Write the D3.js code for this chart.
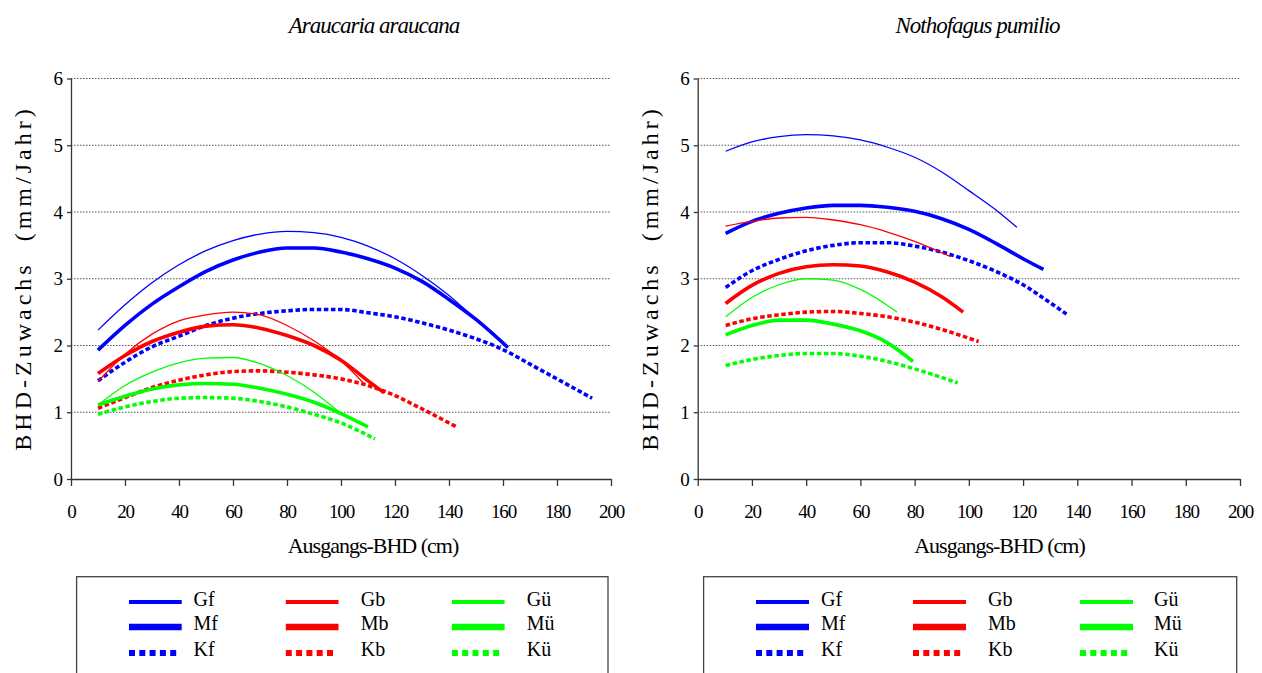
<!DOCTYPE html>
<html>
<head>
<meta charset="utf-8">
<script src="https://cdn.jsdelivr.net/npm/d3@7/dist/d3.min.js"></script>
<style>
  html, body { margin: 0; padding: 0; background: #fff; }
  svg { display: block; }
  .serif { font-family: "Liberation Serif"; }
</style>
</head>
<body>
<svg id="chart" width="1262" height="673" font-family="Liberation Serif"></svg>
<script>
// ---- Data: diameter increment (mm / year) over initial DBH (cm) ----
// Araucaria araucana
const araGf = [[10,2.23],[20,2.61],[30,2.94],[40,3.21],[50,3.42],[60,3.57],[70,3.67],[80,3.71],[90,3.69],[100,3.62],[110,3.49],[120,3.30],[130,3.05],[140,2.75],[150,2.39],[161.8,1.97]];
const araMf = [[10,1.93],[20,2.30],[30,2.62],[40,2.88],[50,3.11],[60,3.28],[70,3.40],[80,3.46],[90,3.46],[100,3.40],[110,3.30],[120,3.16],[130,2.96],[140,2.69],[150,2.39],[161.8,1.97]];
const araKf = [[10,1.47],[20,1.75],[30,1.98],[40,2.14],[50,2.30],[60,2.41],[70,2.48],[80,2.52],[90,2.54],[100,2.54],[110,2.49],[120,2.43],[130,2.34],[140,2.23],[150,2.10],[160,1.94],[170,1.72],[180,1.50],[193,1.21]];
const araGb = [[10,1.46],[20,1.87],[30,2.17],[40,2.37],[50,2.46],[60,2.50],[70,2.46],[80,2.30],[90,2.07],[100,1.77],[108,1.45]];
const araMb = [[10,1.58],[20,1.85],[30,2.06],[40,2.20],[50,2.29],[60,2.31],[70,2.26],[80,2.15],[90,2.00],[100,1.78],[110,1.47],[116,1.29]];
const araKb = [[10,1.06],[20,1.22],[30,1.37],[40,1.48],[50,1.56],[60,1.61],[70,1.62],[80,1.60],[90,1.56],[100,1.50],[110,1.40],[120,1.25],[130,1.05],[143.3,0.77]];
const araGu = [[10,1.11],[20,1.40],[30,1.60],[40,1.74],[50,1.81],[60,1.82],[70,1.73],[80,1.55],[90,1.30],[100,0.98]];
const araMu = [[10,1.11],[20,1.24],[30,1.35],[40,1.41],[50,1.43],[60,1.42],[70,1.36],[80,1.27],[90,1.15],[100,0.98],[110,0.78]];
const araKu = [[10,0.97],[20,1.08],[30,1.16],[40,1.21],[50,1.22],[60,1.21],[70,1.16],[80,1.08],[90,0.97],[100,0.84],[112.6,0.60]];

// Nothofagus pumilio
const notGf = [[10.3,4.91],[20,5.05],[30,5.13],[40,5.16],[50,5.14],[60,5.08],[70,4.97],[80,4.82],[90,4.60],[100,4.32],[110,4.03],[117.7,3.77]];
const notMf = [[10.3,3.68],[20,3.86],[30,3.98],[40,4.06],[50,4.10],[60,4.10],[70,4.07],[80,4.01],[90,3.90],[100,3.74],[110,3.53],[120,3.30],[127.5,3.14]];
const notKf = [[10.3,2.87],[20,3.12],[30,3.29],[40,3.42],[50,3.50],[60,3.54],[70,3.54],[80,3.49],[90,3.40],[100,3.27],[110,3.11],[120,2.91],[130,2.64],[136,2.47]];
const notGb = [[10.3,3.79],[20,3.86],[30,3.91],[40,3.92],[50,3.88],[60,3.81],[70,3.70],[80,3.56],[93.3,3.33]];
const notMb = [[10.3,2.63],[20,2.90],[30,3.08],[40,3.18],[50,3.21],[60,3.19],[70,3.10],[80,2.95],[90,2.73],[97.9,2.50]];
const notKb = [[10.3,2.30],[20,2.40],[30,2.46],[40,2.50],[50,2.51],[60,2.48],[70,2.43],[80,2.35],[90,2.24],[103.6,2.06]];
const notGu = [[10.3,2.43],[20,2.72],[30,2.91],[40,3.00],[50,2.98],[60,2.84],[70,2.60],[73.5,2.50]];
const notMu = [[10.3,2.16],[20,2.30],[30,2.38],[40,2.38],[50,2.32],[60,2.22],[70,2.04],[79.4,1.76]];
const notKu = [[10.3,1.70],[20,1.79],[30,1.85],[40,1.88],[50,1.88],[60,1.84],[70,1.76],[80,1.65],[95.9,1.44]];

// Series names, in drawing / legend order (columns: f, b, ü)
const seriesNames = ["Gf","Mf","Kf","Gb","Mb","Kb","Gü","Mü","Kü"];
const xTicks = [0,20,40,60,80,100,120,140,160,180,200];
const yTicks = [0,1,2,3,4,5,6];
const panelTitles = ["Araucaria araucana", "Nothofagus pumilio"];
const xAxisTitle = "Ausgangs-BHD (cm)";
const yAxisTitle = "BHD-Zuwachs  (mm/Jahr)";

const araData = [araGf, araMf, araKf, araGb, araMb, araKb, araGu, araMu, araKu];
const notData = [notGf, notMf, notKf, notGb, notMb, notKb, notGu, notMu, notKu];

// ---- Styles ----
const SERIF = "'Liberation Serif'";
const colorOf = name => ({ f: "#0000ff", b: "#ff0000", "ü": "#00ff00" })[name[1]];
const chartStroke = {
  G: { w: 1.3, dash: null },
  M: { w: 3.6, dash: null },
  K: { w: 3.6, dash: "4.5,2.6" }
};
const legendStroke = {
  G: { w: 4, dash: null },
  M: { w: 6.4, dash: null },
  K: { w: 6.2, dash: "6,4.3" }
};

const svg = d3.select("#chart");

const panels = [
  { data: araData, title: panelTitles[0], x0: 71, x1: 611, titleX: 374, axisTitleX: 373, yTitleX: 23,
    legend: { left: 76.6, right: 608, cols: [[129, 193.5], [285.8, 360.7], [451.9, 526.8]], len: 52.7 } },
  { data: notData, title: panelTitles[1], x0: 697.7, x1: 1240, titleX: 977.5, axisTitleX: 999.5, yTitleX: 650,
    legend: { left: 703.6, right: 1236.7, cols: [[756, 821], [913, 988], [1080, 1154]], len: 53 } }
];

const yTop = 78.5, yBottom = 479;

panels.forEach(p => {
  const x = d3.scaleLinear().domain([0, 200]).range([p.x0, p.x1]);
  const y = d3.scaleLinear().domain([0, 6]).range([yBottom, yTop]);
  const g = svg.append("g");

  // dotted horizontal gridlines
  g.append("g").selectAll("line")
    .data(yTicks.filter(v => v > 0))
    .join("line")
    .attr("x1", x(0)).attr("x2", x(200))
    .attr("y1", d => y(d)).attr("y2", d => y(d))
    .attr("stroke", "#555").attr("stroke-width", 1)
    .attr("stroke-dasharray", "1.5,1.5");

  // x axis
  const xa = g.append("g")
    .attr("transform", `translate(0,${yBottom})`)
    .call(d3.axisBottom(x).tickValues(xTicks).tickFormat(d3.format("d"))
      .tickSize(7).tickSizeOuter(0).tickPadding(19));
  xa.attr("font-family", SERIF);
  xa.select(".domain").attr("stroke", "#333").attr("stroke-width", 1.3);
  xa.selectAll(".tick line").attr("stroke", "#333").attr("stroke-width", 1.3);
  xa.selectAll(".tick text")
    .style("font-size", "19px").style("letter-spacing", "-1.2px");

  // y axis
  const ya = g.append("g")
    .attr("transform", `translate(${x(0)},0)`)
    .call(d3.axisLeft(y).tickValues(yTicks).tickFormat(d3.format("d"))
      .tickSize(4).tickSizeOuter(0).tickPadding(4));
  ya.attr("font-family", SERIF);
  ya.select(".domain").attr("stroke", "#333").attr("stroke-width", 1.3);
  ya.selectAll(".tick line").attr("stroke", "#333").attr("stroke-width", 1.3);
  ya.selectAll(".tick text").style("font-size", "19px");

  // curves
  const line = d3.line().x(d => x(d[0])).y(d => y(d[1])).curve(d3.curveMonotoneX);
  seriesNames.forEach((name, i) => {
    const st = chartStroke[name[0]];
    g.append("path")
      .datum(p.data[i])
      .attr("d", line)
      .attr("fill", "none")
      .attr("stroke", colorOf(name))
      .attr("stroke-width", st.w)
      .attr("stroke-dasharray", st.dash)
      .attr("stroke-linejoin", "round");
  });

  // panel title
  g.append("text")
    .attr("x", p.titleX).attr("y", 33)
    .attr("text-anchor", "middle")
    .style("font-style", "italic").style("font-size", "23px")
    .style("letter-spacing", "-1px")
    .text(p.title);

  // x axis title
  g.append("text")
    .attr("x", p.axisTitleX).attr("y", 553)
    .attr("text-anchor", "middle")
    .style("font-size", "22px").style("letter-spacing", "-1px")
    .text(xAxisTitle);

  // y axis title (rotated, letter-spaced)
  g.append("text")
    .attr("transform", `translate(${p.yTitleX + 8},278) rotate(-90)`)
    .attr("text-anchor", "middle")
    .style("font-size", "24px").style("letter-spacing", "4px")
    .style("white-space", "pre")
    .text(yAxisTitle);

  // legend box
  const L = p.legend;
  g.append("rect")
    .attr("x", L.left).attr("y", 576.7)
    .attr("width", L.right - L.left).attr("height", 140)
    .attr("fill", "#fff").attr("stroke", "#444").attr("stroke-width", 1.3);

  const rowLineY = [602, 627, 653];
  const rowTextY = [606, 630, 656];
  seriesNames.forEach((name, i) => {
    const col = Math.floor(i / 3), row = i % 3;
    const st = legendStroke[name[0]];
    const [lx, tx] = L.cols[col];
    g.append("line")
      .attr("x1", lx).attr("x2", lx + (st.dash ? 47.5 : L.len))
      .attr("y1", rowLineY[row]).attr("y2", rowLineY[row])
      .attr("stroke", colorOf(name))
      .attr("stroke-width", st.w)
      .attr("stroke-dasharray", st.dash);
    g.append("text")
      .attr("x", tx).attr("y", rowTextY[row])
      .style("font-size", "20px")
      .text(name);
  });
});

// every label in the serif face, black
svg.selectAll("text")
  .classed("serif", true)
  .attr("fill", "#000")
  .style("font-family", SERIF);
</script>
</body>
</html>
